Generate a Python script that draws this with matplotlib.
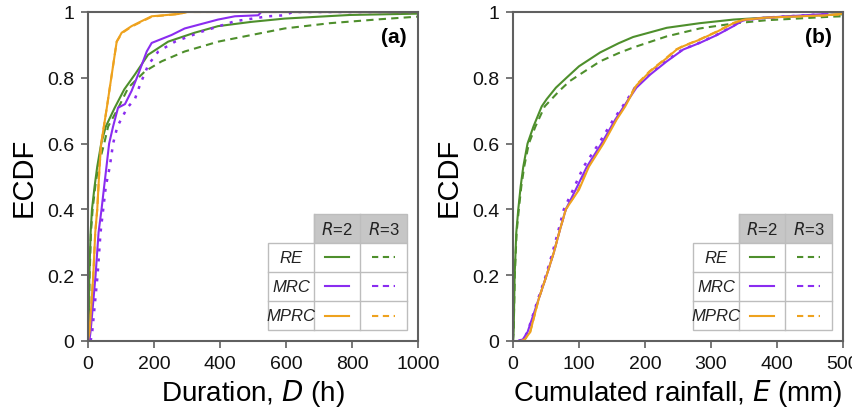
import matplotlib
matplotlib.use("Agg")
import matplotlib.pyplot as plt
from matplotlib.patches import Rectangle

plt.rcParams['font.family'] = ['Liberation Sans', 'DejaVu Sans']

# ---------------- data: panel (a) Duration D (h) ----------------
d_re2_x = [0, 2, 4, 8, 12, 20, 28, 40, 54, 81, 110, 142, 182, 243, 323, 394, 495, 596, 794, 1000]
d_re2_y = [0, 0.03, 0.2, 0.33, 0.4, 0.47, 0.53, 0.6, 0.652, 0.709, 0.765, 0.81, 0.87, 0.91, 0.937, 0.957, 0.97, 0.98, 0.991, 0.995]
d_re3_x = [0, 2, 5, 9, 14, 22, 31, 49, 61, 92, 122, 173, 223, 293, 395, 495, 596, 733, 885, 1000]
d_re3_y = [0, 0.03, 0.2, 0.33, 0.4, 0.47, 0.53, 0.6, 0.652, 0.709, 0.77, 0.82, 0.85, 0.88, 0.91, 0.93, 0.95, 0.966, 0.978, 0.986]
d_mrc2_x = [4, 8, 23, 32, 41, 49, 56, 64, 76, 91, 112, 132, 152, 178, 193, 253, 293, 394, 445, 516, 525, 1000]
d_mrc2_y = [0, 0.03, 0.2, 0.33, 0.4, 0.47, 0.53, 0.6, 0.652, 0.709, 0.72, 0.76, 0.81, 0.88, 0.906, 0.93, 0.95, 0.977, 0.987, 0.99, 1.0, 1.0]
d_mrc3_x = [8, 13, 29, 38, 46, 54, 66, 76, 89, 119, 142, 158, 183, 213, 264, 344, 445, 546, 596, 620, 1000]
d_mrc3_y = [0, 0.03, 0.2, 0.33, 0.4, 0.47, 0.53, 0.6, 0.652, 0.709, 0.735, 0.78, 0.84, 0.88, 0.91, 0.94, 0.972, 0.987, 0.99, 1.0, 1.0]
d_mprc2_x = [0, 5, 16, 22, 28, 35, 40, 57, 72, 87, 102, 132, 162, 193, 274, 300, 1000]
d_mprc2_y = [0, 0.03, 0.2, 0.33, 0.4, 0.53, 0.6, 0.709, 0.81, 0.91, 0.937, 0.957, 0.972, 0.987, 0.994, 1.0, 1.0]
d_mprc3_x = [0, 5, 16, 22, 28, 35, 40, 57, 72, 87, 103, 133, 163, 194, 275, 300, 1000]
d_mprc3_y = [0, 0.03, 0.2, 0.33, 0.4, 0.53, 0.6, 0.709, 0.81, 0.91, 0.936, 0.956, 0.971, 0.986, 0.994, 1.0, 1.0]

# ---------------- data: panel (b) Cumulated rainfall E (mm) ----------------
e_re2_x = [0, 1, 2.5, 5, 8, 11.6, 15.6, 22, 31, 43.5, 51, 65, 81, 100, 132, 160, 182, 233, 283, 334, 384, 485, 500]
e_re2_y = [0, 0.03, 0.2, 0.33, 0.4, 0.47, 0.53, 0.6, 0.652, 0.713, 0.735, 0.77, 0.80, 0.835, 0.877, 0.905, 0.924, 0.952, 0.966, 0.977, 0.983, 0.992, 0.993]
e_re3_x = [0, 1, 2.7, 5.5, 8.8, 12.6, 17, 24, 34, 48, 56, 70, 86, 105, 132, 160, 182, 233, 283, 334, 384, 485, 500]
e_re3_y = [0, 0.03, 0.2, 0.33, 0.4, 0.47, 0.53, 0.6, 0.652, 0.713, 0.73, 0.76, 0.79, 0.815, 0.85, 0.875, 0.892, 0.926, 0.95, 0.965, 0.975, 0.986, 0.987]
e_mrc2_x = [8, 15, 22, 39, 51, 62, 70, 80, 95, 112, 134, 155, 168, 187, 208, 233, 258, 283, 309, 334, 349, 384, 475, 478, 500]
e_mrc2_y = [0, 0.005, 0.027, 0.128, 0.2, 0.27, 0.33, 0.4, 0.46, 0.53, 0.6, 0.673, 0.713, 0.77, 0.81, 0.85, 0.886, 0.906, 0.93, 0.957, 0.975, 0.983, 0.994, 1.0, 1.0]
e_mrc3_x = [8, 15, 22, 38, 50, 60, 68, 77, 91, 107, 130, 152, 166, 185, 206, 231, 257, 282, 308, 333, 348, 384, 475, 478, 500]
e_mrc3_y = [0, 0.005, 0.027, 0.128, 0.2, 0.27, 0.33, 0.4, 0.46, 0.53, 0.6, 0.673, 0.713, 0.77, 0.81, 0.85, 0.886, 0.906, 0.93, 0.957, 0.975, 0.983, 0.994, 1.0, 1.0]
e_mprc2_x = [12, 18, 26, 39, 51, 62, 70, 80, 100, 115, 137, 157, 170, 187, 208, 233, 248, 258, 283, 309, 334, 349, 384, 475, 500]
e_mprc2_y = [0, 0.005, 0.027, 0.128, 0.2, 0.27, 0.33, 0.4, 0.46, 0.53, 0.6, 0.673, 0.713, 0.777, 0.82, 0.86, 0.886, 0.896, 0.916, 0.94, 0.966, 0.976, 0.983, 0.99, 0.995]
e_mprc3_x = [12, 18, 26, 39, 51, 62, 70, 80, 99, 114, 136, 156, 169, 186, 207, 232, 247, 257, 282, 308, 333, 348, 384, 475, 500]
e_mprc3_y = [0, 0.005, 0.027, 0.128, 0.2, 0.27, 0.33, 0.4, 0.46, 0.53, 0.6, 0.673, 0.713, 0.777, 0.82, 0.86, 0.886, 0.896, 0.916, 0.94, 0.966, 0.976, 0.983, 0.99, 0.993]

methods = ["RE", "MRC", "MPRC"]
col_heads = ["2", "3"]

GREEN = "#4e8f2c"
PURPLE = "#8a2cf0"
ORANGE = "#eea21e"
SPINE = "#606060"

fig = plt.figure(figsize=(8.53, 4.10), dpi=100)
ax1 = fig.add_axes([88/853, 68/410, 330/853, 329/410])
ax2 = fig.add_axes([513/853, 68/410, 330/853, 329/410])

lw = 1.5
ax1.plot(d_re2_x, d_re2_y, color=GREEN, lw=lw)
ax1.plot(d_re3_x, d_re3_y, color=GREEN, lw=lw, ls=(0, (3.5, 2.5)))
ax1.plot(d_mprc3_x, d_mprc3_y, color=ORANGE, lw=lw, ls=(0, (3.5, 2.5)))
ax1.plot(d_mrc3_x, d_mrc3_y, color=PURPLE, lw=lw + 0.3, ls=(0, (1.2, 2.8)))
ax1.plot(d_mrc2_x, d_mrc2_y, color=PURPLE, lw=lw)
ax1.plot(d_mprc2_x, d_mprc2_y, color=ORANGE, lw=lw)

ax2.plot(e_re2_x, e_re2_y, color=GREEN, lw=lw)
ax2.plot(e_re3_x, e_re3_y, color=GREEN, lw=lw, ls=(0, (3.5, 2.5)))
ax2.plot(e_mprc3_x, e_mprc3_y, color=ORANGE, lw=lw, ls=(0, (3.5, 2.5)))
ax2.plot(e_mrc3_x, e_mrc3_y, color=PURPLE, lw=lw + 0.3, ls=(0, (1.2, 2.8)))
ax2.plot(e_mrc2_x, e_mrc2_y, color=PURPLE, lw=lw)
ax2.plot(e_mprc2_x, e_mprc2_y, color=ORANGE, lw=lw)

yt = [0, 0.2, 0.4, 0.6, 0.8, 1]
ytl = ["0", "0.2", "0.4", "0.6", "0.8", "1"]

def style(ax, xmax, xstep, xlabel, tag):
    ax.set_xlim(0, xmax)
    ax.set_ylim(0, 1)
    ax.set_xticks(list(range(0, xmax + 1, xstep)))
    ax.set_yticks(yt)
    ax.set_yticklabels(ytl)
    for s in ax.spines.values():
        s.set_color(SPINE)
        s.set_linewidth(1.5)
    ax.tick_params(direction='out', length=5, width=1.2, color=SPINE,
                   labelsize=14, labelcolor='#111111', pad=5)
    ax.set_ylabel("ECDF", fontsize=21, labelpad=7)
    ax.set_xlabel(xlabel, fontsize=20, labelpad=4)
    ax.text(0.967, 0.925, tag, transform=ax.transAxes, ha='right', va='center',
            fontsize=15, fontweight='bold')
    # legend table
    xs = [0.545, 0.685, 0.824, 0.967]
    ys = [0.386, 0.298, 0.210, 0.122, 0.033]
    gc = "#bdbdbd"
    tr = ax.transAxes
    ax.add_patch(Rectangle((xs[1], ys[1]), xs[3] - xs[1], ys[0] - ys[1], transform=tr,
                           facecolor="#c6c6c6", edgecolor=gc, lw=1.0, zorder=5))
    ax.add_patch(Rectangle((xs[0], ys[4]), xs[3] - xs[0], ys[1] - ys[4], transform=tr,
                           facecolor="white", edgecolor=gc, lw=1.0, zorder=5))
    for yy in ys[2:4]:
        ax.plot([xs[0], xs[3]], [yy, yy], transform=tr, color=gc, lw=1.0, zorder=6)
    for xx in xs[1:3]:
        ax.plot([xx, xx], [ys[4], ys[0]], transform=tr, color=gc, lw=1.0, zorder=6)
    for j, h in enumerate(col_heads):
        cx = (xs[j + 1] + xs[j + 2]) / 2
        ax.text(cx, (ys[0] + ys[1]) / 2, r"$\it{R}$=" + h, transform=tr, ha='center',
                va='center', fontsize=12, zorder=7, color='#222222')
    cols = [GREEN, PURPLE, ORANGE]
    for i, m in enumerate(methods):
        cy = (ys[i + 1] + ys[i + 2]) / 2
        ax.text((xs[0] + xs[1]) / 2, cy, m, transform=tr, ha='center', va='center',
                fontsize=12, style='italic', zorder=7, color='#222222')
        c1 = (xs[1] + xs[2]) / 2
        c2 = (xs[2] + xs[3]) / 2
        hw = 0.035
        ax.plot([c1 - hw, c1 + hw], [cy, cy], transform=tr, color=cols[i], lw=1.5, zorder=7)
        ax.plot([c2 - hw, c2 + hw], [cy, cy], transform=tr, color=cols[i], lw=1.5,
                ls=(0, (3, 2.2)), zorder=7)

style(ax1, 1000, 200, r"Duration, $\it{D}$ (h)", "(a)")
style(ax2, 500, 100, r"Cumulated rainfall, $\it{E}$ (mm)", "(b)")

fig.savefig("out.png", dpi=100)
